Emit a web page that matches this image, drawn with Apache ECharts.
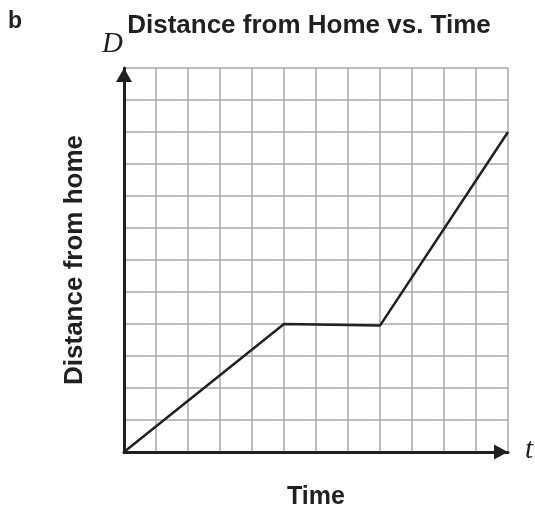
<!DOCTYPE html>
<html>
<head>
<meta charset="utf-8">
<script src="https://cdn.jsdelivr.net/npm/echarts@6/dist/echarts.min.js"></script>
<style>html,body{margin:0;padding:0;background:#fff;}#c{width:535px;height:510px;}</style>
</head>
<body>
<div id="c"></div>
<script>
var timeValues = [0, 5, 8, 12];
var distanceValues = [0, 4, 3.95, 10];
var xTicks = [0, 1, 2, 3, 4, 5, 6, 7, 8, 9, 10, 11, 12];
var yTicks = [0, 1, 2, 3, 4, 5, 6, 7, 8, 9, 10, 11, 12];

var chart = echarts.init(document.getElementById('c'));
var ink = '#231f20';
var gridColor = '#a7a9ac';
var sans = '"Liberation Sans", Arial, sans-serif';
var serif = '"Liberation Serif", "Times New Roman", serif';

chart.setOption({
  animation: false,
  backgroundColor: '#fff',
  title: {
    text: 'Distance from Home vs. Time',
    left: 304, top: 8, textAlign: 'center',
    textStyle: {fontFamily: sans, fontWeight: 'bold', fontSize: 26, color: ink}
  },
  graphic: [
    {type: 'text', left: 8, top: 10, style: {text: 'b', font: 'bold 23px ' + sans, fill: ink}},
    {type: 'text', left: 102, top: 30, style: {text: 'D', font: 'italic 29px ' + serif, fill: ink}},
    {type: 'text', left: 525, top: 436, style: {text: 't', font: 'italic 29px ' + serif, fill: ink}}
  ],
  grid: {left: 124, top: 68, width: 384, height: 384, containLabel: false, outerBoundsMode: 'none'},
  xAxis: {
    type: 'value', min: xTicks[0], max: xTicks[xTicks.length - 1], interval: 1,
    name: 'Time', nameLocation: 'middle', nameGap: 33,
    nameTextStyle: {fontFamily: sans, fontWeight: 'bold', fontSize: 25, color: ink},
    axisLine: {show: true, lineStyle: {color: ink, width: 3}, symbol: ['none', 'triangle'], symbolSize: [15, 14], symbolOffset: [0, -7]},
    axisTick: {show: false}, axisLabel: {show: false},
    splitLine: {show: true, lineStyle: {color: gridColor, width: 1.5}}
  },
  yAxis: {
    type: 'value', min: yTicks[0], max: yTicks[yTicks.length - 1], interval: 1,
    name: 'Distance from home', nameLocation: 'middle', nameGap: 36, nameRotate: 90,
    nameTextStyle: {fontFamily: sans, fontWeight: 'bold', fontSize: 26, color: ink},
    axisLine: {show: true, lineStyle: {color: ink, width: 3}, symbol: ['none', 'triangle'], symbolSize: [16, 14], symbolOffset: [0, -7]},
    axisTick: {show: false}, axisLabel: {show: false},
    splitLine: {show: true, lineStyle: {color: gridColor, width: 1.5}}
  },
  series: [{
    type: 'line',
    data: timeValues.map(function (t, i) { return [t, distanceValues[i]]; }),
    showSymbol: false, symbol: 'none',
    lineStyle: {color: ink, width: 2.5},
    z: 5
  }]
});
</script>
</body>
</html>
